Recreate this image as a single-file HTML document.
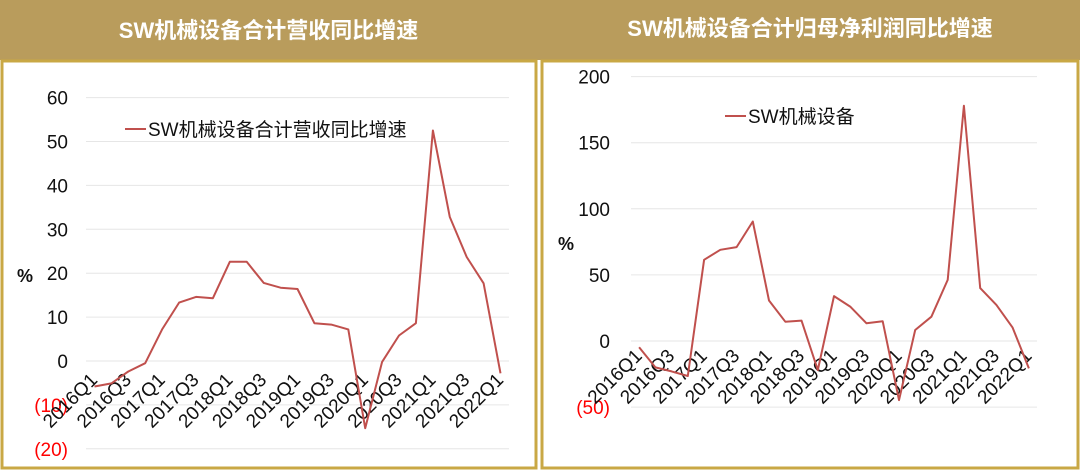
<!DOCTYPE html>
<html><head><meta charset="utf-8"><style>
body{margin:0;width:1080px;height:470px;overflow:hidden;background:#fff;font-family:"Liberation Sans","Noto Sans CJK SC",sans-serif}
.hdr{position:absolute;top:0;height:60px;background:#b99c5c;color:#fff;font-weight:bold;font-size:22px;text-align:center;line-height:62px}
</style></head><body>
<div class="hdr" style="left:0;width:1080px"></div>
<div class="hdr" style="left:0;width:537px;background:transparent">SW机械设备合计营收同比增速</div>
<div class="hdr" style="left:540px;width:540px;background:transparent;line-height:58px">SW机械设备合计归母净利润同比增速</div>
<svg id="c" width="1080" height="470" style="position:absolute;left:0;top:0"></svg>
<script>
const categories=["2016Q1","2016Q2","2016Q3","2016Q4","2017Q1","2017Q2","2017Q3","2017Q4","2018Q1","2018Q2","2018Q3","2018Q4","2019Q1","2019Q2","2019Q3","2019Q4","2020Q1","2020Q2","2020Q3","2020Q4","2021Q1","2021Q2","2021Q3","2021Q4","2022Q1"];
const revenueGrowth=[-5.8,-5.1,-2.4,-0.5,7.2,13.3,14.6,14.3,22.6,22.6,17.8,16.7,16.4,8.6,8.3,7.2,-15.3,-0.2,5.8,8.6,52.5,32.8,23.7,17.7,-2.8];
const profitGrowth=[-4.8,-20,-23,-26.5,61.4,69,71,90.4,30.6,14.6,15.4,-22,34,26,13.4,14.9,-44.7,8.3,18.4,46.2,178,40,27.3,10.1,-20.7];
const leftTicks=[60,50,40,30,20,10,0,-10,-20];
const leftTickLabels=["60","50","40","30","20","10","0","(10)","(20)"];
const rightTicks=[200,150,100,50,0,-50];
const rightTickLabels=["200","150","100","50","0","(50)"];
const NS="http://www.w3.org/2000/svg";
const svg=document.getElementById('c');
function mk(t,a,p){const e=document.createElementNS(NS,t);for(const k in a)e.setAttribute(k,a[k]);(p||svg).appendChild(e);return e;}
let p1=mk('rect',{x:2,y:61,width:534,height:407,fill:'#fff',stroke:'#c9a845','stroke-width':3});


let p2=mk('rect',{x:542,y:61,width:536,height:407,fill:'#fff',stroke:'#c9a845','stroke-width':3});


function chart(o){
  const band=(o.x1-o.x0)/categories.length;
  const X=i=>o.x0+band*(i+0.5);
  const Y=v=>o.yZero-(v)*o.pxPer;
  o.ticks.forEach((t,i)=>{
    const g=mk('line',{x1:o.x0,x2:o.x1,y1:Y(t),y2:Y(t),stroke:'#e6e6e6','stroke-width':1});
    
    
    const tx=mk('text',{x:o.tickX,y:Y(t)+7,'text-anchor':'end','font-size':19,fill:t<0?'#ff0000':'#111'});
    tx.textContent=o.labels[i];
    
    
  });
  for(let i=0;i<categories.length;i+=2){
    const lx=X(i)+4,ly=Y(0)+o.lblOff;
    const t=mk('text',{x:lx,y:ly,'text-anchor':'end','font-size':19,fill:'#111',transform:`rotate(-45 ${lx} ${ly})`});
    t.textContent=categories[i];
    
    
  }
  const pts=o.data.map((v,i)=>X(i).toFixed(1)+','+Y(v).toFixed(1)).join(' ');
  const l=mk('polyline',{points:pts,fill:'none',stroke:'#c0504d','stroke-width':2,'stroke-linejoin':'round'});
  
  
  const u=mk('text',{x:o.unitX,y:o.unitY,'font-size':18,fill:'#111','font-weight':'bold'});
  u.textContent='%';
  
  
  const ll=mk('line',{x1:o.legX,x2:o.legX+21,y1:o.legY,y2:o.legY,stroke:'#c0504d','stroke-width':2});
  
  
  const lt=mk('text',{x:o.legX+23,y:o.legY+7,'font-size':19,fill:'#111'});
  lt.textContent=o.legend;
  
  
}
chart({id:'left',x0:86,x1:509,yZero:361,pxPer:4.39,ticks:leftTicks,labels:leftTickLabels,data:revenueGrowth,tickX:68,lblOff:20,unitX:17,unitY:282,legX:125,legY:129,legend:'SW机械设备合计营收同比增速'});
chart({id:'right',x0:631,x1:1037,yZero:341,pxPer:1.322,ticks:rightTicks,labels:rightTickLabels,data:profitGrowth,tickX:610,lblOff:16,unitX:558,unitY:250,legX:725,legY:116,legend:'SW机械设备'});
</script>
</body></html>
